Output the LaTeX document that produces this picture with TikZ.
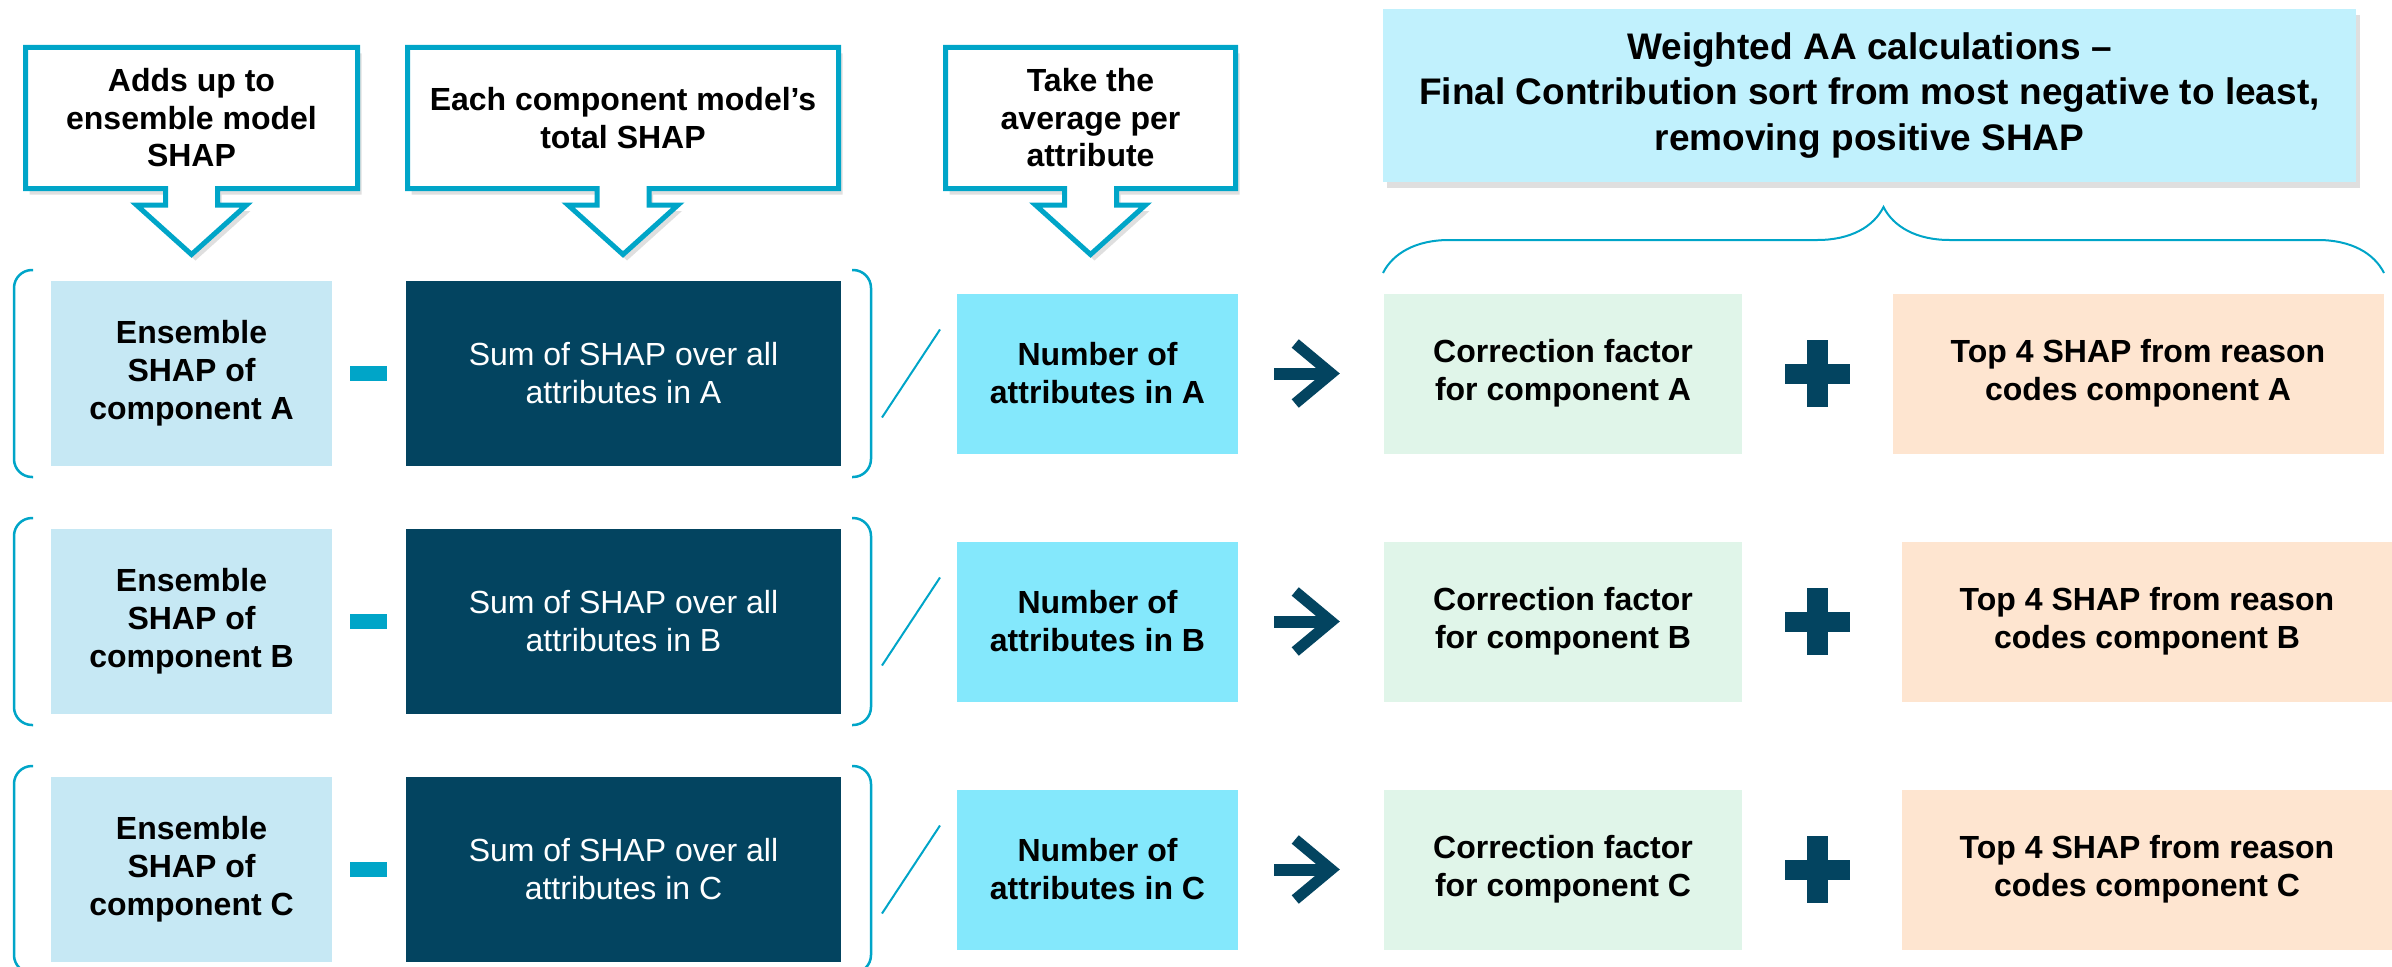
\documentclass[tikz,border=0pt]{standalone}
\usepackage{fontspec}
\setmainfont{Liberation Sans}
\usetikzlibrary{shadows,arrows.meta,decorations.pathreplacing}

\definecolor{shapcyan}{RGB}{0,165,200}
\definecolor{shapnavy}{RGB}{3,68,96}
\definecolor{enslight}{RGB}{198,232,244}
\definecolor{numblue}{RGB}{132,232,252}
\definecolor{corrgreen}{RGB}{224,245,233}
\definecolor{toppeach}{RGB}{254,229,208}
\definecolor{titleblue}{RGB}{193,241,253}

\begin{document}
\begin{tikzpicture}[x=1pt,y=-1pt,
    box/.style={inner sep=0pt, align=center, font=\fontsize{32}{38}\selectfont\bfseries},
    ens/.style={box, fill=enslight, minimum width=281pt, minimum height=185pt},
    sumbox/.style={box, fill=shapnavy, text=white, font=\fontsize{32}{38}\selectfont, minimum width=435pt, minimum height=185pt},
    num/.style={box, fill=numblue, minimum width=281pt, minimum height=160pt},
    corr/.style={box, fill=corrgreen, minimum width=358pt, minimum height=160pt},
    topfour/.style={box, fill=toppeach, minimum width=491pt, minimum height=160pt},
    minusbar/.style={fill=shapcyan, inner sep=0pt, minimum width=37pt, minimum height=15pt},
    bracket/.style={draw=shapcyan, line width=2.5pt, rounded corners=18pt},
    slash/.style={draw=shapcyan, line width=2pt},
    thickarrow/.style={draw=shapnavy, line width=12pt, -{Straight Barb[sharp,length=36pt,width=60pt,line width=11pt]}},
    callout/.style={draw=shapcyan, fill=white, line width=5pt,
      drop shadow={opacity=0.25, shadow xshift=4pt, shadow yshift=-6pt}},
    note/.style={align=center, font=\fontsize{32}{37.5}\selectfont\bfseries}
  ]
  \useasboundingbox (0,0) rectangle (2392,966);

  \foreach \l/\rr/\c in {25.5/357.5/191.5, 407.5/838.5/623, 945.5/1235.5/1090.5}
    \draw[callout] (\l,47.5) -- (\rr,47.5) -- (\rr,188.5) -- (\c+26,188.5) -- (\c+26,205)
      -- (\c+55,205) -- (\c,254.5) -- (\c-55,205) -- (\c-26,205) -- (\c-26,188.5)
      -- (\l,188.5) -- cycle;

  \node[note] (note1) at (191.5,118) {Adds up to\\ensemble model\\SHAP};
  \node[note] (note2) at (623,118) {Each component model’s\\total SHAP};
  \node[note] (note3) at (1090.5,118) {Take the\\average per\\attribute};

  \node[box, fill=titleblue, minimum width=973pt, minimum height=173pt,
    font=\fontsize{37}{45.5}\selectfont\bfseries,
    drop shadow={opacity=0.25, shadow xshift=4pt, shadow yshift=-6pt}]
    (title) at (1869.5,95.5) {Weighted AA calculations –\\Final Contribution sort from most negative to least,\\removing positive SHAP};
  \draw[draw=shapcyan, line width=2pt, decorate, decoration={brace, amplitude=66pt}]
    (1383,273) -- (2384,273);

  \foreach \r/\y/\tx in {A/373.5/2138, B/621.5/2147, C/869.5/2147} {
    \node[ens] (ens\r) at (191.5,\y) {Ensemble\\SHAP of\\component \r};
    \node[sumbox] (sum\r) at (623.5,\y) {Sum of SHAP over all\\attributes in \r};
    \node[num] (num\r) at (1097.5,\y) {Number of\\attributes in \r};
    \node[corr] (corr\r) at (1563,\y) {Correction factor\\for component \r};
    \node[topfour] (top\r) at (\tx,\y) {Top 4 SHAP from reason\\codes component \r};

    \node[minusbar] (minus\r) at (368.5,\y) {};
    \draw[bracket] (33,\y-103.5) -- (14,\y-103.5) -- (14,\y+103.5) -- (33,\y+103.5);
    \draw[bracket] (852,\y-103.5) -- (871,\y-103.5) -- (871,\y+103.5) -- (852,\y+103.5);
    \draw[slash] (882,\y+44) -- (940,\y-44);
    \draw[thickarrow] ([xshift=36pt]num\r.east) -- ([xshift=-44pt]corr\r.west);
    \fill[shapnavy] (1807,\y-33.5) rectangle (1828,\y+33.5);
    \fill[shapnavy] (1785,\y-10) rectangle (1850,\y+10);
  }
\end{tikzpicture}
\end{document}
